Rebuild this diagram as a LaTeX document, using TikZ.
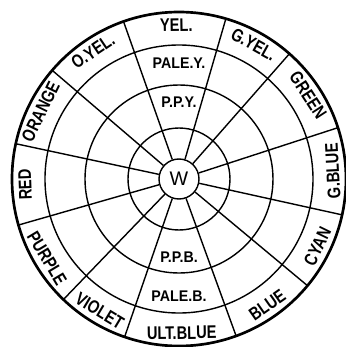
\documentclass[tikz,border=0pt]{standalone}
\usepackage{fontspec}
\setmainfont{Liberation Sans}
\newfontfamily\handfont[FakeStretch=0.8]{Liberation Sans Bold}
\newfontfamily\tintfont[FakeStretch=0.92]{Liberation Sans Bold}
\tikzset{
  ring/.style={line width=1pt},
  rim/.style={line width=1.9pt},
  spoke/.style={line width=1pt},
  huelabel/.style={
    font=\handfont\fontsize{13}{13}\selectfont,
    inner sep=0pt
  },
  tintlabel/.style={
    font=\tintfont\fontsize{11}{11}\selectfont,
    inner sep=0pt
  },
  centre/.style={
    circle,
    draw,
    line width=1pt,
    minimum size=1cm,
    inner sep=0pt,
    font=\fontsize{14}{14}\selectfont
  }
}

\begin{document}
\begin{tikzpicture}
  \useasboundingbox (-4.475,-4.2) rectangle (4.175,4.475);
  \node[centre] (white) at (0,0) {W};
  \draw[rim] (0,0) circle (4.175);
  \foreach \r in {3.35,2.35,1.275} {
    \draw[ring] (0,0) circle (\r);
  }
  \foreach \a in {73.7,48.6,17.9,-12.4,-39.7,-70,-109,-133.8,-164,167.8,139.4,109.4} {
    \draw[spoke] (white.\a) -- (\a:4.175);
  }
  % outer ring, upper half
  \foreach \a/\t [count=\i] in {91/YEL.,61/G.YEL.,33/GREEN,124/O.YEL.,154/ORANGE,182/RED} {
    \node[huelabel, rotate=\a-90] (top\i) at (\a:3.85) {\t};
  }
  % outer ring, lower half
  \foreach \a/\t [count=\i] in {3/G.BLUE,-26/CYAN,-55/BLUE,-89/ULT.BLUE,-121/VIOLET,-149/PURPLE} {
    \node[huelabel, rotate=\a+90] (bot\i) at (\a:3.85) {\t};
  }
  \node[tintlabel] (paley) at (90:2.9) {PALE.Y.};
  \node[tintlabel] (ppy) at (90:1.93) {P.P.Y.};
  \node[tintlabel] (ppb) at (-90:1.95) {P.P.B.};
  \node[tintlabel] (paleb) at (-90:2.92) {PALE.B.};
\end{tikzpicture}
\end{document}
